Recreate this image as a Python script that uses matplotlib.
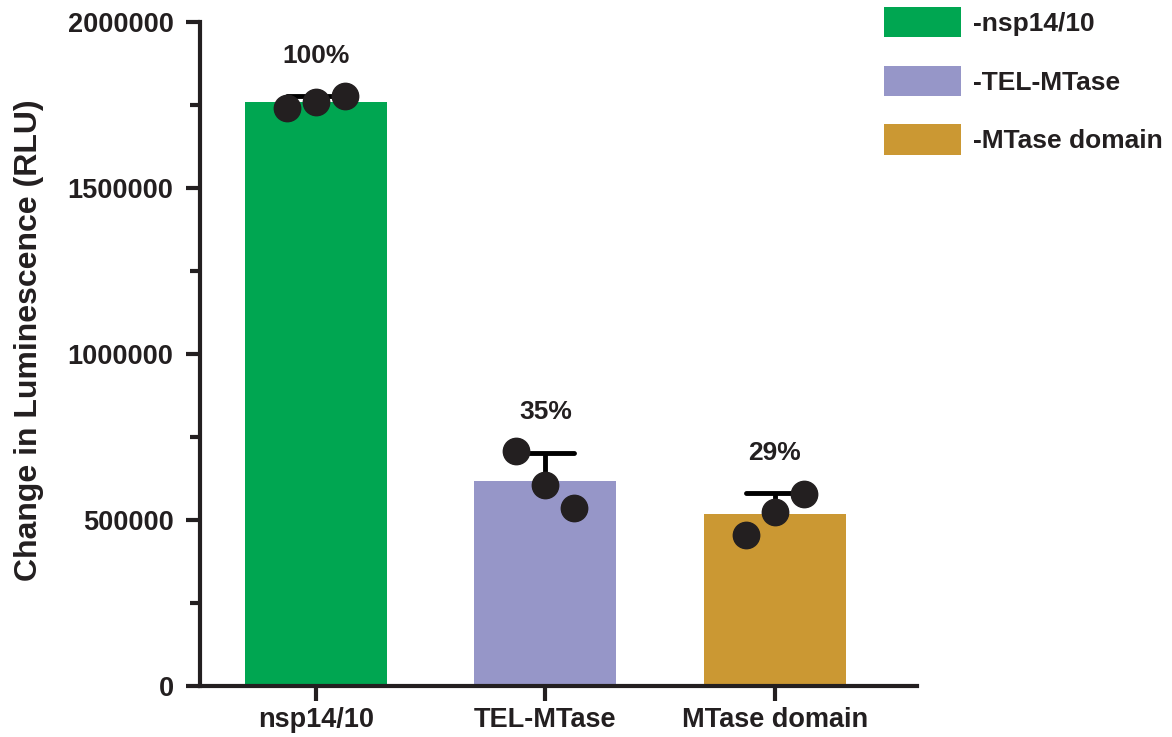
import numpy as np
import matplotlib.pyplot as plt
from matplotlib.ticker import MultipleLocator, StrMethodFormatter
from matplotlib.patches import Patch

plt.rcParams['font.family'] = ['Liberation Sans', 'DejaVu Sans']
plt.rcParams['font.weight'] = 'bold'

# data
groups = ['nsp14/10', 'TEL-MTase', 'MTase domain']
legend_labels = ['-nsp14/10', '-TEL-MTase', '-MTase domain']
reps = [
    [1741000, 1759000, 1777000],
    [708000, 605000, 536000],
    [455000, 524000, 578000],
]
pct_labels = ['100%', '35%', '29%']
colors = ['#00A651', '#9696C8', '#CB9833']
dark = '#231F20'

means = np.array([np.mean(r) for r in reps])
sds = np.array([np.std(r, ddof=1) for r in reps])

fig = plt.figure(figsize=(11.72, 7.37), dpi=100)
ax = fig.add_axes([200/1172, 51/737, 717/1172, 664/737])

x = np.arange(len(groups))
ax.bar(x, means, width=0.62, color=colors, zorder=1)
# upper error bar only
ax.vlines(x, means, means + sds, color='black', lw=3.5, zorder=2)
ax.hlines(means + sds, x - 0.125, x + 0.125, color='black', lw=3.5,
          zorder=2, capstyle='round')
offsets = np.array([-0.126, 0.0, 0.126])
for i, r in enumerate(reps):
    ax.plot(x[i] + offsets, r, 'o', color=dark, ms=19, zorder=3,
            clip_on=False)
    ax.annotate(pct_labels[i], (x[i], means[i] + sds[i]), xytext=(0, 29),
                textcoords='offset points', ha='center', va='center',
                fontsize=19, fontweight='bold', color=dark)

ax.set_xlim(-0.505, 2.62)
ax.set_ylim(0, 2000000)
ax.yaxis.set_major_locator(MultipleLocator(500000))
ax.yaxis.set_minor_locator(MultipleLocator(250000))
ax.yaxis.set_major_formatter(StrMethodFormatter('{x:.0f}'))
ax.set_xticks(x)
ax.set_xticklabels(groups)
ax.set_ylabel('Change in Luminescence (RLU)', fontsize=23, fontweight='bold',
              color=dark)
ax.yaxis.set_label_coords(-0.218, 0.521)

for s in ['top', 'right']:
    ax.spines[s].set_visible(False)
for s in ['left', 'bottom']:
    ax.spines[s].set_linewidth(3)
    ax.spines[s].set_color(dark)
ax.tick_params(axis='both', which='major', width=3, length=10, color=dark,
               labelsize=19.5, labelcolor=dark, pad=9)
ax.tick_params(axis='y', which='minor', width=3, length=7, color=dark)
ax.tick_params(axis='x', length=11, pad=4)

handles = [Patch(facecolor=c) for c in colors]
fig.legend(handles, legend_labels, loc='upper left',
           bbox_to_anchor=(884/1172, 1 - 7/737), frameon=False, fontsize=19,
           handlelength=2.92, handleheight=1.4, labelspacing=1.07,
           handletextpad=0.45, labelcolor=dark, borderpad=0,
           borderaxespad=0)

fig.savefig('out.png', dpi=100)
